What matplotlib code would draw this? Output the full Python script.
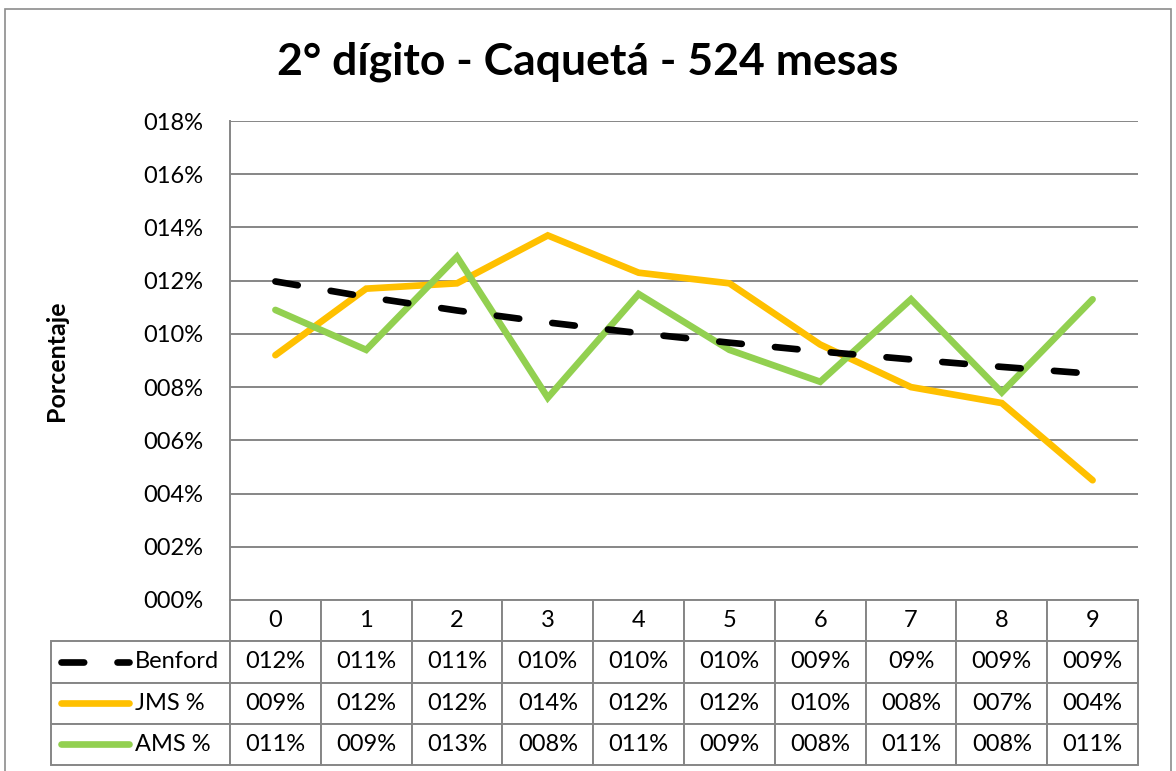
import matplotlib.pyplot as plt
from matplotlib.table import Table
from matplotlib.lines import Line2D
from matplotlib.patches import Rectangle

# data (percent)
digits = ["0", "1", "2", "3", "4", "5", "6", "7", "8", "9"]
benford = [11.97, 11.39, 10.88, 10.43, 10.03, 9.67, 9.34, 9.04, 8.76, 8.50]
jms = [9.2, 11.7, 11.9, 13.7, 12.3, 11.9, 9.6, 8.0, 7.4, 4.5]
ams = [10.9, 9.4, 12.9, 7.6, 11.5, 9.4, 8.2, 11.3, 7.8, 11.3]

# table text as printed in the chart
benford_txt = ["012%", "011%", "011%", "010%", "010%", "010%", "009%", "09%", "009%", "009%"]
jms_txt = ["009%", "012%", "012%", "014%", "012%", "012%", "010%", "008%", "007%", "004%"]
ams_txt = ["011%", "009%", "013%", "008%", "011%", "009%", "008%", "011%", "008%", "011%"]
yticks = [0, 2, 4, 6, 8, 10, 12, 14, 16, 18]
ytick_labels = ["%03d%%" % t for t in yticks]

plt.rcParams['font.family'] = ['Lato', 'DejaVu Sans']

fig = plt.figure(figsize=(11.76, 7.71), dpi=100)
ax = fig.add_axes([230/1176, 1-600/771, 908/1176, 479/771])

x = list(range(len(digits)))
grid_c = "#868686"
lw = 4.8
fs = 17
ax.plot(x, jms, color="#FFC000", lw=lw, solid_capstyle="round", solid_joinstyle="miter", zorder=3)
ax.plot(x, ams, color="#92D050", lw=lw, solid_capstyle="round", solid_joinstyle="miter", zorder=3)
ax.plot(x, benford, color="black", lw=lw, dashes=(3.4, 5.0), dash_capstyle="round", zorder=4)

ax.set_xlim(-0.5, 9.5)
ax.set_ylim(0, 18)
ax.set_yticks(yticks)
ax.set_yticklabels(ytick_labels, fontsize=fs)
ax.tick_params(axis="y", length=0, pad=19)
ax.set_xticks([])
ax.yaxis.grid(True, color=grid_c, lw=1.4)
ax.set_axisbelow(True)
for s in ["top", "right", "bottom"]:
    ax.spines[s].set_visible(False)
ax.spines["left"].set_color(grid_c)
ax.spines["left"].set_linewidth(1.4)
ax.set_ylabel("Porcentaje", fontsize=18, fontweight="bold")
ax.yaxis.set_label_coords((68 - 230) / 908, 0.5)

# data table under the axis (col 0 = legend labels), cells only give the grid
lab_w = 179/908
col_w = 0.1
tab_h = 0.3445
row_h = tab_h / 4
tb = Table(ax, bbox=[-lab_w, -tab_h, lab_w + 1.0, tab_h])
rows = [benford_txt, jms_txt, ams_txt]
for j in range(len(digits)):
    tb.add_cell(0, j + 1, width=col_w, height=row_h)
for i in range(len(rows)):
    tb.add_cell(i + 1, 0, width=lab_w, height=row_h)
    for j in range(len(digits)):
        tb.add_cell(i + 1, j + 1, width=col_w, height=row_h)
for cell in tb.get_celld().values():
    cell.set_edgecolor(grid_c)
    cell.set_linewidth(1.4)
ax.add_table(tb)

# cell texts
for j, d in enumerate(digits):
    ax.text((j + 0.5) * col_w, -row_h / 2, d, transform=ax.transAxes,
            fontsize=fs, ha="center", va="center")
for i, r in enumerate(rows):
    yc = -tab_h + (2.5 - i) * row_h
    for j, t in enumerate(r):
        ax.text((j + 0.5) * col_w, yc, t, transform=ax.transAxes,
                fontsize=fs, ha="center", va="center")

# legend keys inside the label column
names = ["Benford", "JMS %", "AMS %"]
colors = ["black", "#FFC000", "#92D050"]
k0 = (61 - 230) / 908
k1 = (129 - 230) / 908
for i, (n, c) in enumerate(zip(names, colors)):
    yc = -tab_h + (2.5 - i) * row_h
    if n == "Benford":
        ln = Line2D([k0, k1], [yc, yc], color=c, lw=lw, dashes=(3.4, 5.0),
                    dash_capstyle="round", transform=ax.transAxes, clip_on=False)
    else:
        ln = Line2D([k0, k1], [yc, yc], color=c, lw=lw, solid_capstyle="round",
                    transform=ax.transAxes, clip_on=False)
    ax.add_line(ln)
    ax.text((135 - 230) / 908, yc, n, transform=ax.transAxes, fontsize=fs,
            ha="left", va="center")

fig.text(0.5, 1 - 62/771, "2° dígito - Caquetá - 524 mesas", fontsize=32,
         fontweight="bold", ha="center", va="center")

fig.patches.append(Rectangle((5/1176, -0.05), 1166/1176, 1.05 - 9/771,
                             transform=fig.transFigure, fill=False,
                             edgecolor="#8c8c8c", lw=1.2))

fig.savefig("out.png", dpi=100)
